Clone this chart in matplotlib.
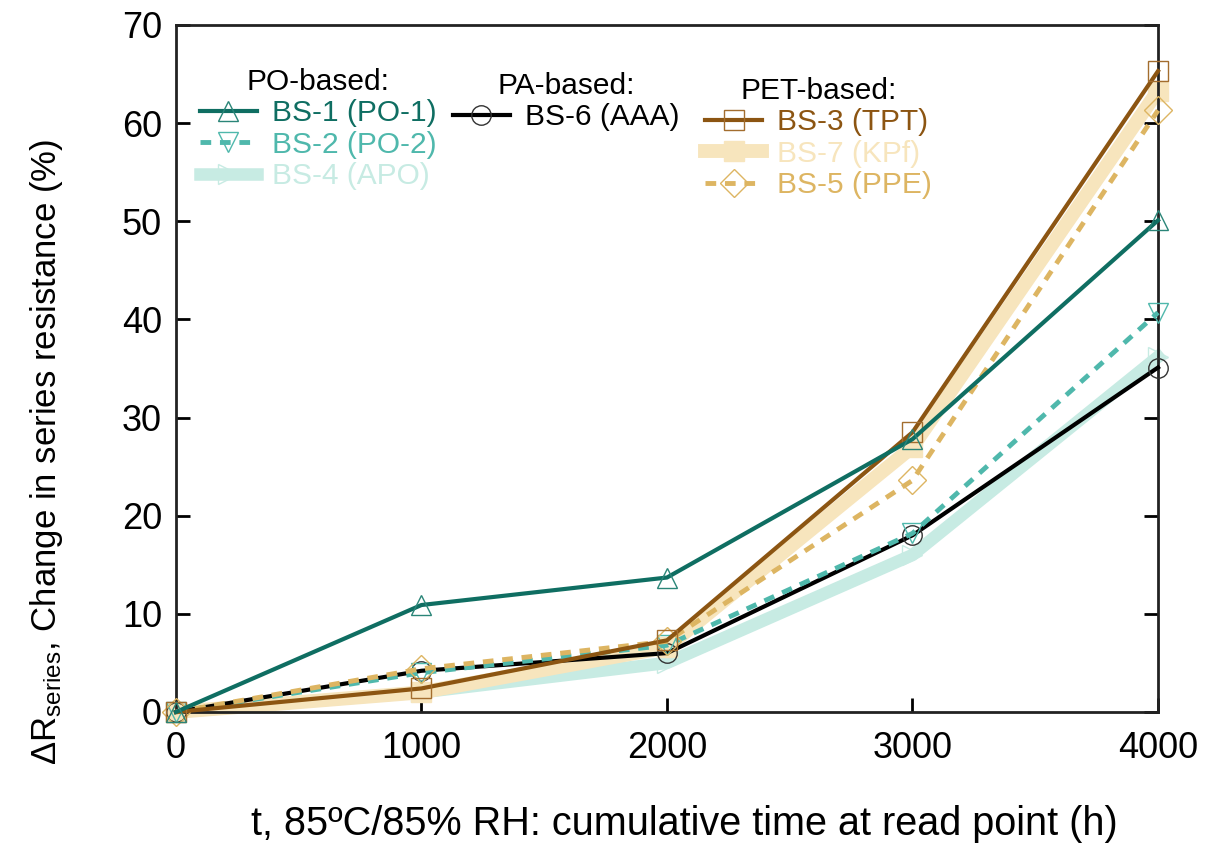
import matplotlib
matplotlib.use("Agg")
import matplotlib.pyplot as plt

plt.rcParams['font.family'] = ['Liberation Sans', 'DejaVu Sans']
plt.rcParams['mathtext.default'] = 'regular'

hours = [0, 1000, 2000, 3000, 4000]
bs1_po1 = [0, 10.9, 13.7, 27.8, 50.1]
bs2_po2 = [0, 4.0, 6.8, 18.2, 40.7]
bs4_apo = [0, 2.0, 5.0, 16.0, 36.2]
bs6_aaa = [0, 4.2, 6.0, 18.0, 35.1]
bs3_tpt = [0, 2.4, 7.3, 28.5, 65.3]
bs7_kpf = [0, 2.0, 6.6, 27.0, 63.3]
bs5_ppe = [0, 4.4, 7.2, 23.6, 61.3]

c_bs1 = '#0f6e62'
c_bs2 = '#4fb8ac'
c_bs4 = '#c7ebe3'
c_bs6 = '#000000'
c_bs3 = '#8c5512'
c_bs7 = '#f7e5bd'
c_bs5 = '#ddb562'

fig = plt.figure(figsize=(12.06, 8.47), dpi=100)
ax = fig.add_axes([0.1459, 0.1594, 0.8143, 0.8111])

ms = 14
mew = 1.0
l_bs4, = ax.plot(hours, bs4_apo, color=c_bs4, lw=9, marker='>', ms=ms, mfc='none', mec=c_bs4, mew=mew,
                 clip_on=False, zorder=2, label='BS-4 (APO)')
l_bs7, = ax.plot(hours, bs7_kpf, color=c_bs7, lw=10, marker='s', ms=ms, mfc=c_bs7, mec=c_bs7, mew=mew,
                 clip_on=False, zorder=2, label='BS-7 (KPf)')
l_bs6, = ax.plot(hours, bs6_aaa, color=c_bs6, lw=3, marker='o', ms=ms, mfc='none', mec='#333333', mew=mew,
                 clip_on=False, zorder=3, label='BS-6 (AAA)')
l_bs2, = ax.plot(hours, bs2_po2, color=c_bs2, lw=3.5, ls=(0, (2.2, 1.8)), marker='v', ms=ms, mfc='none', mec=c_bs2,
                 mew=mew, clip_on=False, zorder=4, label='BS-2 (PO-2)')
l_bs5, = ax.plot(hours, bs5_ppe, color=c_bs5, lw=3.5, ls=(0, (2.2, 1.8)), marker='D', ms=ms, mfc='none', mec=c_bs5,
                 mew=mew, clip_on=False, zorder=4, label='BS-5 (PPE)')
l_bs3, = ax.plot(hours, bs3_tpt, color=c_bs3, lw=3, marker='s', ms=ms, mfc='none', mec='#a36d2e', mew=mew,
                 clip_on=False, zorder=5, label='BS-3 (TPT)')
l_bs1, = ax.plot(hours, bs1_po1, color=c_bs1, lw=3, marker='^', ms=ms, mfc='none', mec='#2a8578', mew=mew,
                 clip_on=False, zorder=5, label='BS-1 (PO-1)')

ax.set_xlim(0, 4000)
ax.set_ylim(0, 70)
ax.set_xticks([0, 1000, 2000, 3000, 4000])
ax.set_yticks([0, 10, 20, 30, 40, 50, 60, 70])
ax.tick_params(axis='both', direction='in', length=10, width=2, labelsize=26, pad=14)
ax.tick_params(axis='y', right=True, pad=10)
for s in ax.spines.values():
    s.set_linewidth(2)
    s.set_color('#222222')

ax.set_xlabel('t, 85ºC/85% RH: cumulative time at read point (h)', fontsize=28.5)
ax.xaxis.set_label_coords(0.518, -0.135)
ax.set_ylabel('ΔR$_{series}$, Change in series resistance (%)', fontsize=25)
ax.yaxis.set_label_coords(-0.113, 0.378)

leg_kw = dict(frameon=False, fontsize=21.5, title_fontsize=21.5, handlelength=1.9, handletextpad=0.5,
              labelspacing=0.12, borderpad=0.0, borderaxespad=0.0)

leg1 = ax.legend(handles=[l_bs1, l_bs2, l_bs4], title='PO-based:', loc='upper left',
                 bbox_to_anchor=(0.0244, 0.938), **leg_kw)
for t, c in zip(leg1.get_texts(), [c_bs1, c_bs2, c_bs4]):
    t.set_color(c)
ax.add_artist(leg1)

leg2 = ax.legend(handles=[l_bs6], title='PA-based:', loc='upper left',
                 bbox_to_anchor=(0.282, 0.932), **leg_kw)
ax.add_artist(leg2)

leg3 = ax.legend(handles=[l_bs3, l_bs7, l_bs5], title='PET-based:', loc='upper left',
                 bbox_to_anchor=(0.539, 0.925), **leg_kw)
for t, c in zip(leg3.get_texts(), [c_bs3, c_bs7, c_bs5]):
    t.set_color(c)

fig.savefig('out.png', dpi=100)
